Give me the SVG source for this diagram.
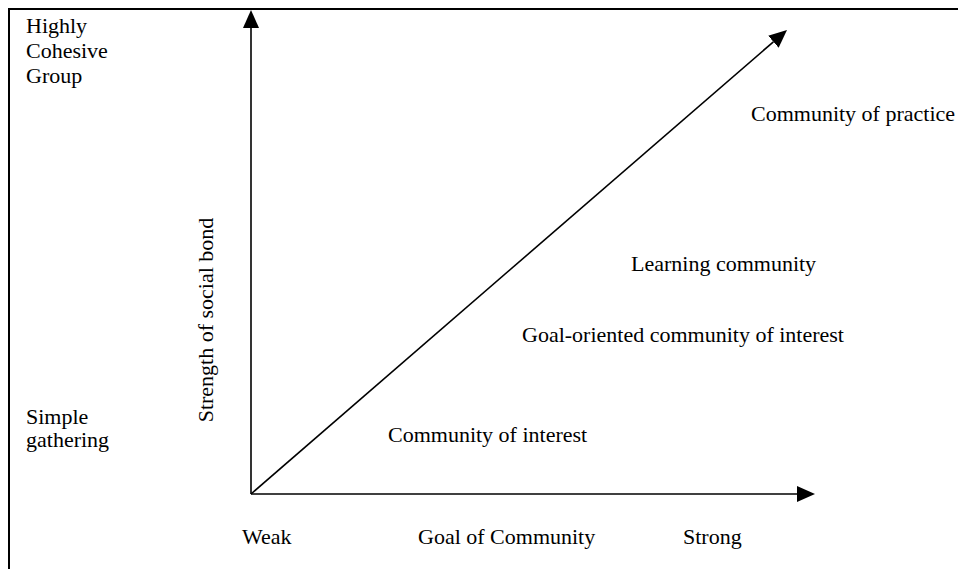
<svg xmlns="http://www.w3.org/2000/svg" width="958" height="569" viewBox="0 0 958 569">
<style>
  text { font-family: 'Liberation Serif', Tinos, 'Times New Roman', Times, 'DejaVu Serif', serif; font-size: 22px; fill: #000; }
  .ax { stroke: #000; stroke-width: 1.6; fill: none; }
  .frame { stroke: #000; stroke-width: 2; fill: none; }
</style>
<defs>
  <marker id="ah" markerUnits="userSpaceOnUse" markerWidth="18" markerHeight="16" refX="0" refY="8" orient="auto">
    <path d="M0,0 L18,8 L0,16 Z" fill="#000"/>
  </marker>
</defs>
<rect width="958" height="569" fill="#fff"/>
<g id="frame">
  <path class="frame" d="M9,569 L9,9 L958,9"/>
</g>
<g id="connectors">
  <line class="ax" x1="251" y1="494" x2="251" y2="28" marker-end="url(#ah)"/>
  <line class="ax" x1="251" y1="494" x2="797" y2="494" marker-end="url(#ah)"/>
  <line class="ax" x1="251" y1="494" x2="773.4" y2="41.8" marker-end="url(#ah)"/>
</g>
<g id="label-high">
  <text x="26" y="33">Highly</text>
  <text x="26" y="58">Cohesive</text>
  <text x="26" y="83">Group</text>
</g>
<g id="label-low">
  <text x="26" y="424">Simple</text>
  <text x="26" y="447">gathering</text>
</g>
<g id="label-y-axis">
  <text x="0" y="0" text-anchor="middle" transform="translate(213,320) rotate(-90)">Strength of social bond</text>
</g>
<g id="label-weak"><text x="242" y="544">Weak</text></g>
<g id="label-goal"><text x="418" y="544">Goal of Community</text></g>
<g id="label-strong"><text x="683" y="544">Strong</text></g>
<g id="node-coi"><text x="388" y="442">Community of interest</text></g>
<g id="node-gocoi"><text x="522" y="342">Goal-oriented community of interest</text></g>
<g id="node-lc"><text x="631" y="271">Learning community</text></g>
<g id="node-cop"><text x="751" y="121">Community of practice</text></g>
</svg>
